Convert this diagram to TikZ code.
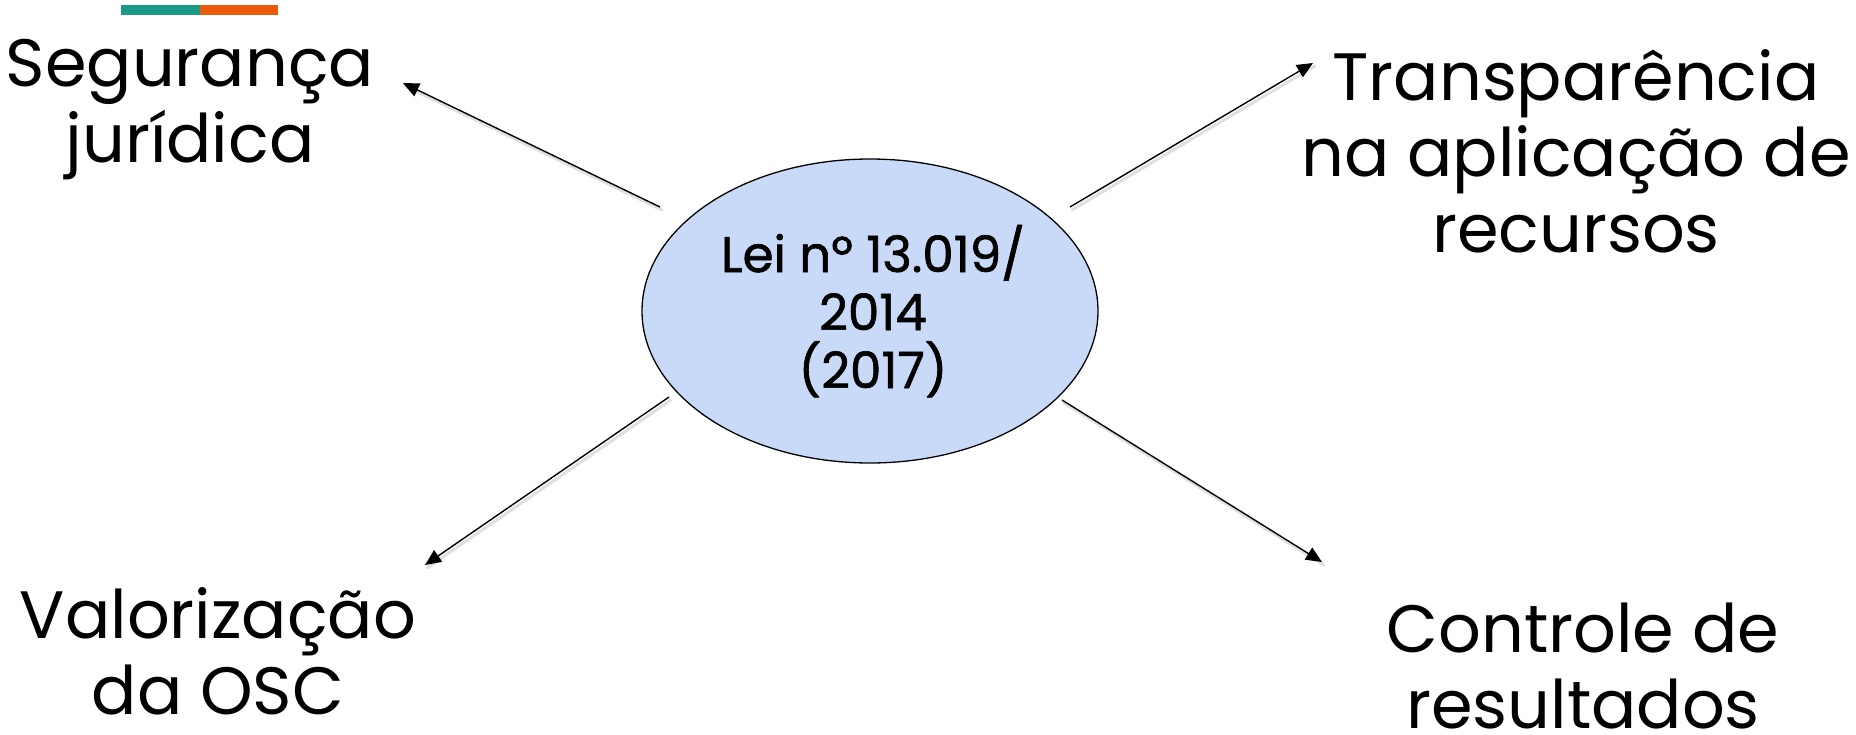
\documentclass[tikz,border=0pt]{standalone}
\usepackage{fontspec}
\setmainfont{Poppins}
\newfontfamily\lawfont[FakeBold=1.3]{Poppins}
\usetikzlibrary{arrows.meta,shapes.geometric}
\definecolor{lawblue}{HTML}{C9DAF8}
\definecolor{barteal}{HTML}{1A9988}
\definecolor{barorange}{HTML}{EB5A0A}
\tikzset{
  topic/.style={anchor=base, align=center, inner sep=0pt,
    font=\fontsize{67}{76}\selectfont},
  lawtext/.style={anchor=base, align=center, inner sep=0pt,
    font=\lawfont\fontsize{50}{58}\selectfont},
  arr/.style={line width=1.4pt, -{Triangle[length=16pt,width=14pt]}},
  arrshadow/.style={line width=3pt, black, opacity=0.12, line cap=round},
}
\begin{document}
\begin{tikzpicture}[x=1pt,y=-1pt]
  \useasboundingbox (0,0) rectangle (1856,734);
  % accent bar
  \fill[barteal] (121,5) rectangle (200,15);
  \fill[barorange] (200,5) rectangle (278,15);

  % central law (text nodes are anchored at the baseline of their last line)
  \node[ellipse, draw=black, line width=1.3pt, fill=lawblue,
        minimum width=456pt, minimum height=304pt, inner sep=0pt]
        (lei) at (870,311) {};
  \node[lawtext] (leitxt) at (873,388) {Lei nº 13.019/\\2014\\ (2017)};

  % surrounding topics
  \node[topic] (seg) at (190,162) {Segurança\\jurídica};
  \node[topic] (tra) at (1576,252) {Transparência\\na aplicação de\\recursos};
  \node[topic] (val) at (218,714) {Valorização\\da OSC};
  \node[topic] (con) at (1583,728) {Controle de\\resultados};

  % connector ends
  \coordinate (s1) at (660,207);  \coordinate (t1) at (403,83);
  \coordinate (s2) at (1070,207); \coordinate (t2) at (1313,63);
  \coordinate (s3) at (669,397);  \coordinate (t3) at (425,565);
  \coordinate (s4) at (1062,400); \coordinate (t4) at (1322,562);

  % soft shadows under the arrows
  \foreach \s/\t in {s1/t1,s2/t2,s3/t3,s4/t4}
    \draw[arrshadow] ([shift={(2,3)}]\s) -- ([shift={(2,3)}]\t);

  \draw[arr] (s1) -- (t1);
  \draw[arr] (s2) -- (t2);
  \draw[arr] (s3) -- (t3);
  \draw[arr] (s4) -- (t4);
\end{tikzpicture}
\end{document}
